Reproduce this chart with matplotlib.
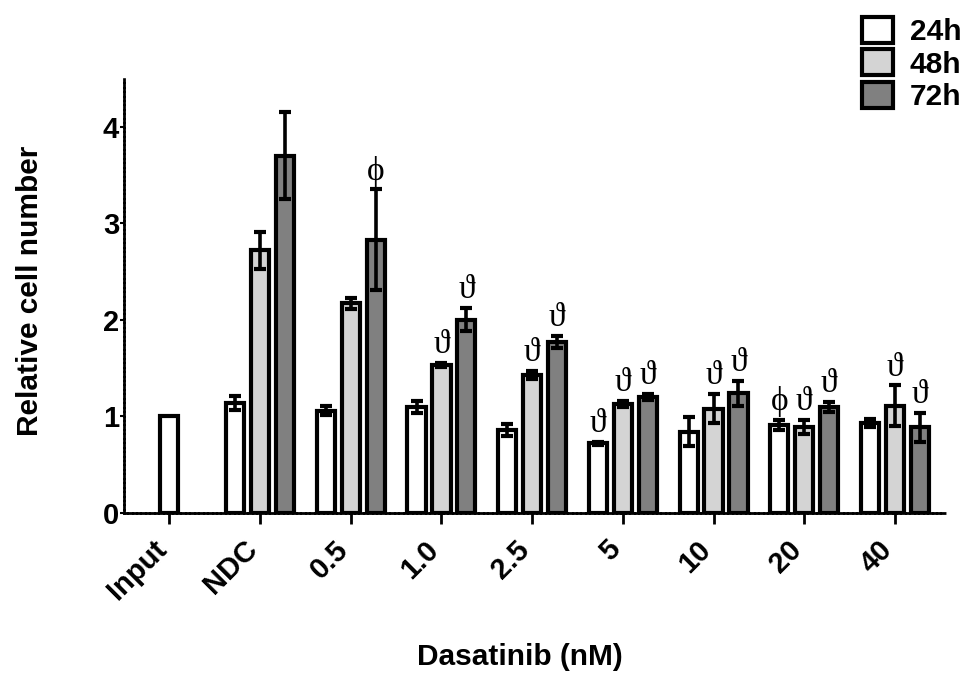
import numpy as np
import matplotlib
matplotlib.use("Agg")
import matplotlib.pyplot as plt
import matplotlib.transforms as mtransforms
from matplotlib.patches import Patch

groups = ['Input', 'NDC', '0.5', '1.0', '2.5', '5', '10', '20', '40']
series = ['24h', '48h', '72h']
means_24 = [1.00, 1.14, 1.06, 1.10, 0.86, 0.72, 0.84, 0.91, 0.93]
err_24 = [0.00, 0.07, 0.05, 0.06, 0.06, 0.02, 0.15, 0.05, 0.04]
means_48 = [np.nan, 2.72, 2.17, 1.53, 1.43, 1.13, 1.08, 0.89, 1.11]
err_48 = [np.nan, 0.19, 0.06, 0.02, 0.04, 0.03, 0.15, 0.07, 0.21]
means_72 = [np.nan, 3.70, 2.83, 2.00, 1.77, 1.20, 1.24, 1.10, 0.89]
err_72 = [np.nan, 0.45, 0.52, 0.12, 0.06, 0.03, 0.13, 0.05, 0.15]
sig_24 = ['', '', '', '', '', 'ϑ', '', 'ϕ', '']
sig_48 = ['', '', '', 'ϑ', 'ϑ', 'ϑ', 'ϑ', 'ϑ', 'ϑ']
sig_72 = ['', '', 'ϕ', 'ϑ', 'ϑ', 'ϑ', 'ϑ', 'ϑ', 'ϑ']
colors = ['#ffffff', '#d4d4d4', '#808080']

plt.rcParams['font.family'] = ['Liberation Sans', 'DejaVu Sans']
plt.rcParams['font.weight'] = 'bold'

fig = plt.figure(figsize=(9.69, 6.75), dpi=100)
ax = fig.add_axes([0.128, 0.24, 0.847, 0.644])

width = 0.2
offset = 0.275
x = np.arange(len(groups))
all_means = [means_24, means_48, means_72]
all_errs = [err_24, err_48, err_72]
all_sigs = [sig_24, sig_48, sig_72]

for s in range(3):
    for i in range(len(groups)):
        m = all_means[s][i]
        if np.isnan(m):
            continue
        if groups[i] == 'Input':
            xp = x[i]
        else:
            xp = x[i] + (s - 1) * offset
        e = all_errs[s][i]
        ax.bar(xp, m, width=width, color=colors[s], edgecolor='black',
               linewidth=3.0, zorder=2)
        if e > 0:
            ax.errorbar(xp, m, yerr=e, fmt='none', ecolor='black',
                        elinewidth=2.6, capsize=4.5, capthick=3.0, zorder=3)
        if all_sigs[s][i]:
            ax.annotate(all_sigs[s][i], (xp, m + e), xytext=(0, 2),
                        textcoords='offset points', ha='center', va='bottom',
                        fontsize=24, fontweight='normal',
                        family=['Liberation Serif', 'DejaVu Serif'])

ax.set_xlim(-0.5, 8.55)
ax.set_ylim(0, 4.5)
ax.set_yticks([0, 1, 2, 3, 4])
ax.set_yticklabels(['0', '1', '2', '3', '4'], fontsize=21, fontweight='bold')
ax.set_xticks(x)
ax.set_xticklabels(groups, rotation=45, ha='right', va='top', rotation_mode='anchor',
                   fontsize=21, fontweight='bold')
ax.tick_params(axis='y', direction='out', length=3, width=1.5, pad=0.5)
ax.tick_params(axis='x', direction='out', length=8, width=2, pad=8)
shift = mtransforms.ScaledTranslation(-17 / 100, 0, fig.dpi_scale_trans)
for lbl in ax.get_xticklabels():
    lbl.set_transform(lbl.get_transform() + shift)
for side in ['top', 'right']:
    ax.spines[side].set_visible(False)
for side in ['left', 'bottom']:
    ax.spines[side].set_linewidth(2)
    ax.spines[side].set_linestyle((0, (1, 0.6)))
ax.set_ylabel('Relative cell number', fontsize=21.5, fontweight='bold', va='center')
ax.yaxis.set_label_coords(-0.1145, 0.51)
ax.set_xlabel('Dasatinib (nM)', fontsize=21.5, fontweight='bold', va='center')
ax.xaxis.set_label_coords(0.482, -0.331)

handles = [Patch(facecolor=colors[s], edgecolor='black', linewidth=3.0, label=series[s])
           for s in range(3)]
fig.legend(handles=handles, loc='upper right', bbox_to_anchor=(1.02, 1.015),
           frameon=False, handlelength=1.05, handleheight=0.95,
           handletextpad=0.55, labelspacing=0.12, prop={'weight': 'bold', 'size': 21.5})

fig.savefig('out.png', dpi=100)
